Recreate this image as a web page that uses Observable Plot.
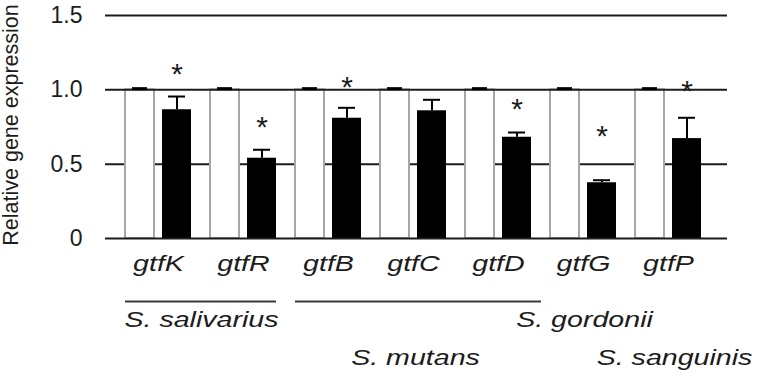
<!DOCTYPE html>
<html><head><meta charset="utf-8">
<script src="https://cdn.jsdelivr.net/npm/d3@7"></script>
<script src="https://cdn.jsdelivr.net/npm/@observablehq/plot@0.6"></script>
<style>body{margin:0;background:#fff} #chart svg{display:block}</style>
</head><body><div id="chart"></div>
<script>
// ---- data ----
const genes = ["gtfK", "gtfR", "gtfB", "gtfC", "gtfD", "gtfG", "gtfP"];
const control = [1, 1, 1, 1, 1, 1, 1];
const controlSD = [0.008, 0.008, 0.008, 0.008, 0.008, 0.008, 0.008];
const treated = [0.866, 0.540, 0.809, 0.859, 0.681, 0.375, 0.672];
const treatedSD = [0.089, 0.057, 0.070, 0.074, 0.032, 0.017, 0.140];
const starAt = [1.157, 0.798, 1.069, null, 0.923, 0.738, 1.040];
const yTicks = [0, 0.5, 1.0, 1.5];
const yTickLabels = ["0", "0.5", "1.0", "1.5"];
const yLabel = "Relative gene expression";
const species = ["S. salivarius", "S. mutans", "S. gordonii", "S. sanguinis"];
const speciesFrom = ["gtfK", "gtfB", "gtfG", "gtfP"];
const speciesTo = ["gtfR", "gtfD", "gtfG", "gtfP"];

const rows = genes.map((g, i) => ({
  gene: g, control: control[i], controlSD: controlSD[i],
  treated: treated[i], treatedSD: treatedSD[i], star: starAt[i]
}));
const sp = species.map((s, i) => ({name: s, from: speciesFrom[i], to: speciesTo[i]}));

const FONT = "'Liberation Sans', Arial, sans-serif";
const ink = "#1c1c1c";

const plot = Plot.plot({
  width: 765, height: 376,
  marginTop: 15, marginBottom: 138, marginLeft: 105, marginRight: 38,
  style: {fontFamily: FONT, fontSize: "23px", background: "#fff", color: ink},
  x: {domain: genes, range: [123, 704], paddingInner: 0.218, paddingOuter: 0, axis: null},
  y: {domain: [0, 1.5], ticks: yTicks, tickFormat: d => yTickLabels[yTicks.indexOf(d)],
      tickSize: 0, tickPadding: 23, label: null},
  marks: [
    Plot.ruleY([0.5, 1.5], {stroke: ink, strokeWidth: 2}),
    Plot.barY(rows, {x: "gene", y: "control", fill: "#fff", stroke: "#a6a6a6", strokeWidth: 2, insetRight: 37}),
    Plot.barY(rows, {x: "gene", y: "treated", fill: "#000", insetLeft: 37}),
    Plot.ruleY([0, 1.0], {stroke: ink, strokeWidth: 2}),
    Plot.tickY(rows, {x: "gene", y: d => d.control + d.controlSD, stroke: "#000", strokeWidth: 3, insetLeft: 7, insetRight: 44}),
    Plot.ruleX(rows, {x: "gene", y1: "treated", y2: d => d.treated + d.treatedSD, dx: 18.5, stroke: "#000", strokeWidth: 2}),
    Plot.tickY(rows, {x: "gene", y: d => d.treated + d.treatedSD, stroke: "#000", strokeWidth: 2, insetLeft: 43, insetRight: 6}),
    Plot.text(rows.filter(d => d.star != null), {x: "gene", y: "star", text: () => "*", dx: 18.5, dy: 8, fontSize: 30, fill: ink}),
    // y-axis title
    Plot.text([yLabel], {frameAnchor: "left", textAnchor: "middle", rotate: -90, dx: -94, dy: -2, fontSize: 21.5, fill: ink}),
    // gene labels
    Plot.text(genes, {x: d => d, text: d => d, frameAnchor: "bottom", dy: 32, fontSize: 22, fontStyle: "italic", fill: ink}),
    // species brackets
    Plot.ruleY(sp.filter(d => d.name === "S. salivarius"), {y: () => 0, x1: "from", x2: "to", dy: 63, stroke: "#3a3a3a", strokeWidth: 2}),
    Plot.ruleY(sp.filter(d => d.name === "S. mutans"), {y: () => 0, x1: "from", x2: "to", dy: 63, insetRight: -10, stroke: "#3a3a3a", strokeWidth: 2}),
    // species labels
    Plot.text(sp.filter(d => d.name === "S. salivarius"), {x: "from", text: "name", frameAnchor: "bottom", dx: 43, dy: 88, fontSize: 22, fontStyle: "italic", fill: ink}),
    Plot.text(sp.filter(d => d.name === "S. gordonii"), {x: "from", text: "name", frameAnchor: "bottom", dx: 1, dy: 88, fontSize: 22, fontStyle: "italic", fill: ink}),
    Plot.text(sp.filter(d => d.name === "S. mutans"), {x: "from", text: "name", frameAnchor: "bottom", dx: 87, dy: 126, fontSize: 22, fontStyle: "italic", fill: ink}),
    Plot.text(sp.filter(d => d.name === "S. sanguinis"), {x: "from", text: "name", frameAnchor: "bottom", dx: 6, dy: 126, fontSize: 22, fontStyle: "italic", fill: ink})
  ]
});

// the reference's italic labels are set horizontally wide
plot.querySelectorAll('g[font-style="italic"] text').forEach(t => {
  const tr = t.getAttribute("transform");
  if (tr) t.setAttribute("transform", tr + " scale(1.3,1)");
});

document.getElementById("chart").append(plot);
</script>
</body></html>
